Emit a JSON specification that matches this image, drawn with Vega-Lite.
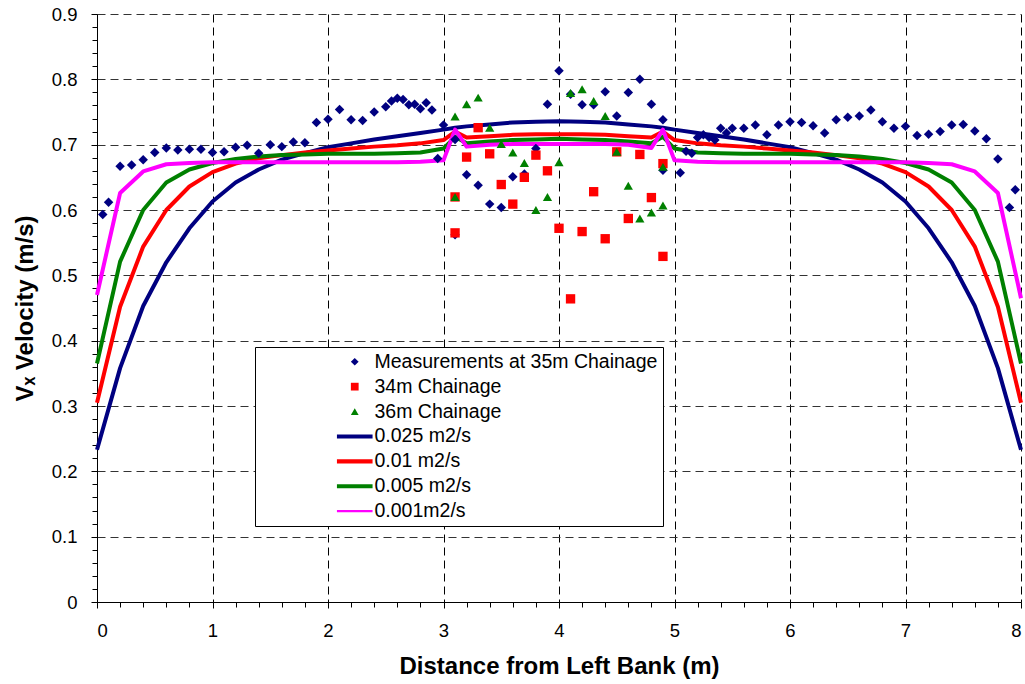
{
  "$schema": "https://vega.github.io/schema/vega-lite/v6.json",
  "width": 924,
  "height": 588,
  "autosize": "none",
  "padding": {"left": 97, "top": 14, "right": 4, "bottom": 82},
  "background": "white",
  "config": {
    "view": {"stroke": null},
    "font": "Liberation Sans",
    "legend": {
      "orient": "none",
      "legendX": 158,
      "legendY": 333,
      "fillColor": "white",
      "strokeColor": "black",
      "padding": 5,
      "labelFont": "Liberation Sans",
      "labelFontSize": 19.5,
      "labelColor": "black",
      "labelLimit": 500,
      "symbolSize": 60,
      "symbolStrokeWidth": 0,
      "symbolOffset": 85,
      "labelOffset": 10,
      "rowPadding": 3.9
    }
  },
  "datasets": {
    "points": [
      {"x":0.05,"v":0.593,"series":"Measurements at 35m Chainage"},
      {"x":0.1,"v":0.612,"series":"Measurements at 35m Chainage"},
      {"x":0.2,"v":0.667,"series":"Measurements at 35m Chainage"},
      {"x":0.3,"v":0.669,"series":"Measurements at 35m Chainage"},
      {"x":0.4,"v":0.677,"series":"Measurements at 35m Chainage"},
      {"x":0.5,"v":0.688,"series":"Measurements at 35m Chainage"},
      {"x":0.6,"v":0.695,"series":"Measurements at 35m Chainage"},
      {"x":0.7,"v":0.692,"series":"Measurements at 35m Chainage"},
      {"x":0.8,"v":0.693,"series":"Measurements at 35m Chainage"},
      {"x":0.9,"v":0.693,"series":"Measurements at 35m Chainage"},
      {"x":1.0,"v":0.688,"series":"Measurements at 35m Chainage"},
      {"x":1.1,"v":0.689,"series":"Measurements at 35m Chainage"},
      {"x":1.2,"v":0.696,"series":"Measurements at 35m Chainage"},
      {"x":1.3,"v":0.699,"series":"Measurements at 35m Chainage"},
      {"x":1.4,"v":0.687,"series":"Measurements at 35m Chainage"},
      {"x":1.5,"v":0.700,"series":"Measurements at 35m Chainage"},
      {"x":1.6,"v":0.697,"series":"Measurements at 35m Chainage"},
      {"x":1.7,"v":0.704,"series":"Measurements at 35m Chainage"},
      {"x":1.8,"v":0.703,"series":"Measurements at 35m Chainage"},
      {"x":1.9,"v":0.734,"series":"Measurements at 35m Chainage"},
      {"x":2.0,"v":0.739,"series":"Measurements at 35m Chainage"},
      {"x":2.1,"v":0.754,"series":"Measurements at 35m Chainage"},
      {"x":2.2,"v":0.738,"series":"Measurements at 35m Chainage"},
      {"x":2.3,"v":0.737,"series":"Measurements at 35m Chainage"},
      {"x":2.4,"v":0.750,"series":"Measurements at 35m Chainage"},
      {"x":2.5,"v":0.758,"series":"Measurements at 35m Chainage"},
      {"x":2.55,"v":0.767,"series":"Measurements at 35m Chainage"},
      {"x":2.6,"v":0.771,"series":"Measurements at 35m Chainage"},
      {"x":2.65,"v":0.769,"series":"Measurements at 35m Chainage"},
      {"x":2.7,"v":0.761,"series":"Measurements at 35m Chainage"},
      {"x":2.75,"v":0.762,"series":"Measurements at 35m Chainage"},
      {"x":2.8,"v":0.755,"series":"Measurements at 35m Chainage"},
      {"x":2.85,"v":0.764,"series":"Measurements at 35m Chainage"},
      {"x":2.9,"v":0.753,"series":"Measurements at 35m Chainage"},
      {"x":2.95,"v":0.679,"series":"Measurements at 35m Chainage"},
      {"x":3.0,"v":0.730,"series":"Measurements at 35m Chainage"},
      {"x":3.1,"v":0.708,"series":"Measurements at 35m Chainage"},
      {"x":3.1,"v":0.562,"series":"Measurements at 35m Chainage"},
      {"x":3.2,"v":0.654,"series":"Measurements at 35m Chainage"},
      {"x":3.3,"v":0.638,"series":"Measurements at 35m Chainage"},
      {"x":3.4,"v":0.609,"series":"Measurements at 35m Chainage"},
      {"x":3.5,"v":0.604,"series":"Measurements at 35m Chainage"},
      {"x":3.6,"v":0.651,"series":"Measurements at 35m Chainage"},
      {"x":3.7,"v":0.655,"series":"Measurements at 35m Chainage"},
      {"x":3.8,"v":0.694,"series":"Measurements at 35m Chainage"},
      {"x":3.9,"v":0.762,"series":"Measurements at 35m Chainage"},
      {"x":4.0,"v":0.813,"series":"Measurements at 35m Chainage"},
      {"x":4.1,"v":0.777,"series":"Measurements at 35m Chainage"},
      {"x":4.2,"v":0.761,"series":"Measurements at 35m Chainage"},
      {"x":4.3,"v":0.761,"series":"Measurements at 35m Chainage"},
      {"x":4.4,"v":0.781,"series":"Measurements at 35m Chainage"},
      {"x":4.5,"v":0.744,"series":"Measurements at 35m Chainage"},
      {"x":4.6,"v":0.780,"series":"Measurements at 35m Chainage"},
      {"x":4.7,"v":0.800,"series":"Measurements at 35m Chainage"},
      {"x":4.8,"v":0.762,"series":"Measurements at 35m Chainage"},
      {"x":4.9,"v":0.738,"series":"Measurements at 35m Chainage"},
      {"x":4.9,"v":0.661,"series":"Measurements at 35m Chainage"},
      {"x":5.05,"v":0.657,"series":"Measurements at 35m Chainage"},
      {"x":5.1,"v":0.690,"series":"Measurements at 35m Chainage"},
      {"x":5.15,"v":0.687,"series":"Measurements at 35m Chainage"},
      {"x":5.2,"v":0.711,"series":"Measurements at 35m Chainage"},
      {"x":5.25,"v":0.715,"series":"Measurements at 35m Chainage"},
      {"x":5.3,"v":0.711,"series":"Measurements at 35m Chainage"},
      {"x":5.35,"v":0.707,"series":"Measurements at 35m Chainage"},
      {"x":5.4,"v":0.725,"series":"Measurements at 35m Chainage"},
      {"x":5.45,"v":0.718,"series":"Measurements at 35m Chainage"},
      {"x":5.5,"v":0.725,"series":"Measurements at 35m Chainage"},
      {"x":5.6,"v":0.725,"series":"Measurements at 35m Chainage"},
      {"x":5.7,"v":0.730,"series":"Measurements at 35m Chainage"},
      {"x":5.8,"v":0.715,"series":"Measurements at 35m Chainage"},
      {"x":5.9,"v":0.730,"series":"Measurements at 35m Chainage"},
      {"x":6.0,"v":0.735,"series":"Measurements at 35m Chainage"},
      {"x":6.1,"v":0.734,"series":"Measurements at 35m Chainage"},
      {"x":6.2,"v":0.729,"series":"Measurements at 35m Chainage"},
      {"x":6.3,"v":0.718,"series":"Measurements at 35m Chainage"},
      {"x":6.4,"v":0.738,"series":"Measurements at 35m Chainage"},
      {"x":6.5,"v":0.742,"series":"Measurements at 35m Chainage"},
      {"x":6.6,"v":0.744,"series":"Measurements at 35m Chainage"},
      {"x":6.7,"v":0.753,"series":"Measurements at 35m Chainage"},
      {"x":6.8,"v":0.735,"series":"Measurements at 35m Chainage"},
      {"x":6.9,"v":0.725,"series":"Measurements at 35m Chainage"},
      {"x":7.0,"v":0.728,"series":"Measurements at 35m Chainage"},
      {"x":7.1,"v":0.714,"series":"Measurements at 35m Chainage"},
      {"x":7.2,"v":0.716,"series":"Measurements at 35m Chainage"},
      {"x":7.3,"v":0.720,"series":"Measurements at 35m Chainage"},
      {"x":7.4,"v":0.730,"series":"Measurements at 35m Chainage"},
      {"x":7.5,"v":0.731,"series":"Measurements at 35m Chainage"},
      {"x":7.6,"v":0.721,"series":"Measurements at 35m Chainage"},
      {"x":7.7,"v":0.709,"series":"Measurements at 35m Chainage"},
      {"x":7.8,"v":0.678,"series":"Measurements at 35m Chainage"},
      {"x":7.9,"v":0.604,"series":"Measurements at 35m Chainage"},
      {"x":7.95,"v":0.631,"series":"Measurements at 35m Chainage"},
      {"x":3.1,"v":0.620,"series":"34m Chainage"},
      {"x":3.1,"v":0.565,"series":"34m Chainage"},
      {"x":3.2,"v":0.681,"series":"34m Chainage"},
      {"x":3.3,"v":0.726,"series":"34m Chainage"},
      {"x":3.4,"v":0.686,"series":"34m Chainage"},
      {"x":3.5,"v":0.639,"series":"34m Chainage"},
      {"x":3.6,"v":0.609,"series":"34m Chainage"},
      {"x":3.7,"v":0.650,"series":"34m Chainage"},
      {"x":3.8,"v":0.684,"series":"34m Chainage"},
      {"x":3.9,"v":0.660,"series":"34m Chainage"},
      {"x":4.0,"v":0.572,"series":"34m Chainage"},
      {"x":4.1,"v":0.464,"series":"34m Chainage"},
      {"x":4.2,"v":0.567,"series":"34m Chainage"},
      {"x":4.3,"v":0.628,"series":"34m Chainage"},
      {"x":4.4,"v":0.556,"series":"34m Chainage"},
      {"x":4.5,"v":0.689,"series":"34m Chainage"},
      {"x":4.6,"v":0.587,"series":"34m Chainage"},
      {"x":4.7,"v":0.685,"series":"34m Chainage"},
      {"x":4.8,"v":0.619,"series":"34m Chainage"},
      {"x":4.9,"v":0.671,"series":"34m Chainage"},
      {"x":4.9,"v":0.529,"series":"34m Chainage"},
      {"x":3.1,"v":0.743,"series":"36m Chainage"},
      {"x":3.1,"v":0.620,"series":"36m Chainage"},
      {"x":3.2,"v":0.762,"series":"36m Chainage"},
      {"x":3.3,"v":0.772,"series":"36m Chainage"},
      {"x":3.4,"v":0.726,"series":"36m Chainage"},
      {"x":3.5,"v":0.701,"series":"36m Chainage"},
      {"x":3.6,"v":0.688,"series":"36m Chainage"},
      {"x":3.7,"v":0.672,"series":"36m Chainage"},
      {"x":3.8,"v":0.600,"series":"36m Chainage"},
      {"x":3.9,"v":0.620,"series":"36m Chainage"},
      {"x":4.0,"v":0.673,"series":"36m Chainage"},
      {"x":4.1,"v":0.779,"series":"36m Chainage"},
      {"x":4.2,"v":0.785,"series":"36m Chainage"},
      {"x":4.3,"v":0.767,"series":"36m Chainage"},
      {"x":4.4,"v":0.744,"series":"36m Chainage"},
      {"x":4.5,"v":0.689,"series":"36m Chainage"},
      {"x":4.6,"v":0.637,"series":"36m Chainage"},
      {"x":4.7,"v":0.587,"series":"36m Chainage"},
      {"x":4.8,"v":0.596,"series":"36m Chainage"},
      {"x":4.9,"v":0.666,"series":"36m Chainage"},
      {"x":4.9,"v":0.607,"series":"36m Chainage"}
    ],
    "lines": [
      {"x":0,"v":0.233,"series":"0.025 m2/s"},{"x":0.2,"v":0.358,"series":"0.025 m2/s"},{"x":0.4,"v":0.453,"series":"0.025 m2/s"},{"x":0.6,"v":0.520,"series":"0.025 m2/s"},{"x":0.8,"v":0.572,"series":"0.025 m2/s"},{"x":1.0,"v":0.613,"series":"0.025 m2/s"},{"x":1.2,"v":0.642,"series":"0.025 m2/s"},{"x":1.4,"v":0.662,"series":"0.025 m2/s"},{"x":1.6,"v":0.677,"series":"0.025 m2/s"},{"x":1.8,"v":0.687,"series":"0.025 m2/s"},{"x":2.0,"v":0.696,"series":"0.025 m2/s"},{"x":2.2,"v":0.702,"series":"0.025 m2/s"},{"x":2.4,"v":0.708,"series":"0.025 m2/s"},{"x":2.6,"v":0.713,"series":"0.025 m2/s"},{"x":2.8,"v":0.718,"series":"0.025 m2/s"},{"x":3.0,"v":0.723,"series":"0.025 m2/s"},{"x":3.1,"v":0.726,"series":"0.025 m2/s"},{"x":3.2,"v":0.728,"series":"0.025 m2/s"},{"x":3.4,"v":0.731,"series":"0.025 m2/s"},{"x":3.6,"v":0.734,"series":"0.025 m2/s"},{"x":3.8,"v":0.735,"series":"0.025 m2/s"},{"x":4.0,"v":0.736,"series":"0.025 m2/s"},{"x":4.2,"v":0.735,"series":"0.025 m2/s"},{"x":4.4,"v":0.734,"series":"0.025 m2/s"},{"x":4.6,"v":0.731,"series":"0.025 m2/s"},{"x":4.8,"v":0.728,"series":"0.025 m2/s"},{"x":4.9,"v":0.726,"series":"0.025 m2/s"},{"x":5.0,"v":0.723,"series":"0.025 m2/s"},{"x":5.2,"v":0.718,"series":"0.025 m2/s"},{"x":5.4,"v":0.713,"series":"0.025 m2/s"},{"x":5.6,"v":0.708,"series":"0.025 m2/s"},{"x":5.8,"v":0.702,"series":"0.025 m2/s"},{"x":6.0,"v":0.696,"series":"0.025 m2/s"},{"x":6.2,"v":0.687,"series":"0.025 m2/s"},{"x":6.4,"v":0.677,"series":"0.025 m2/s"},{"x":6.6,"v":0.662,"series":"0.025 m2/s"},{"x":6.8,"v":0.642,"series":"0.025 m2/s"},{"x":7.0,"v":0.613,"series":"0.025 m2/s"},{"x":7.2,"v":0.572,"series":"0.025 m2/s"},{"x":7.4,"v":0.520,"series":"0.025 m2/s"},{"x":7.6,"v":0.453,"series":"0.025 m2/s"},{"x":7.8,"v":0.358,"series":"0.025 m2/s"},{"x":8.0,"v":0.233,"series":"0.025 m2/s"},
      {"x":0,"v":0.305,"series":"0.01 m2/s"},{"x":0.2,"v":0.452,"series":"0.01 m2/s"},{"x":0.4,"v":0.544,"series":"0.01 m2/s"},{"x":0.6,"v":0.600,"series":"0.01 m2/s"},{"x":0.8,"v":0.636,"series":"0.01 m2/s"},{"x":1.0,"v":0.658,"series":"0.01 m2/s"},{"x":1.2,"v":0.671,"series":"0.01 m2/s"},{"x":1.4,"v":0.679,"series":"0.01 m2/s"},{"x":1.6,"v":0.684,"series":"0.01 m2/s"},{"x":1.8,"v":0.688,"series":"0.01 m2/s"},{"x":2.0,"v":0.691,"series":"0.01 m2/s"},{"x":2.2,"v":0.694,"series":"0.01 m2/s"},{"x":2.4,"v":0.697,"series":"0.01 m2/s"},{"x":2.6,"v":0.699,"series":"0.01 m2/s"},{"x":2.8,"v":0.702,"series":"0.01 m2/s"},{"x":3.0,"v":0.707,"series":"0.01 m2/s"},{"x":3.1,"v":0.720,"series":"0.01 m2/s"},{"x":3.2,"v":0.711,"series":"0.01 m2/s"},{"x":3.4,"v":0.713,"series":"0.01 m2/s"},{"x":3.6,"v":0.715,"series":"0.01 m2/s"},{"x":3.8,"v":0.716,"series":"0.01 m2/s"},{"x":4.0,"v":0.716,"series":"0.01 m2/s"},{"x":4.2,"v":0.716,"series":"0.01 m2/s"},{"x":4.4,"v":0.715,"series":"0.01 m2/s"},{"x":4.6,"v":0.713,"series":"0.01 m2/s"},{"x":4.8,"v":0.711,"series":"0.01 m2/s"},{"x":4.9,"v":0.720,"series":"0.01 m2/s"},{"x":5.0,"v":0.707,"series":"0.01 m2/s"},{"x":5.2,"v":0.702,"series":"0.01 m2/s"},{"x":5.4,"v":0.699,"series":"0.01 m2/s"},{"x":5.6,"v":0.697,"series":"0.01 m2/s"},{"x":5.8,"v":0.694,"series":"0.01 m2/s"},{"x":6.0,"v":0.691,"series":"0.01 m2/s"},{"x":6.2,"v":0.688,"series":"0.01 m2/s"},{"x":6.4,"v":0.684,"series":"0.01 m2/s"},{"x":6.6,"v":0.679,"series":"0.01 m2/s"},{"x":6.8,"v":0.671,"series":"0.01 m2/s"},{"x":7.0,"v":0.658,"series":"0.01 m2/s"},{"x":7.2,"v":0.636,"series":"0.01 m2/s"},{"x":7.4,"v":0.600,"series":"0.01 m2/s"},{"x":7.6,"v":0.544,"series":"0.01 m2/s"},{"x":7.8,"v":0.452,"series":"0.01 m2/s"},{"x":8.0,"v":0.305,"series":"0.01 m2/s"},
      {"x":0,"v":0.365,"series":"0.005 m2/s"},{"x":0.2,"v":0.521,"series":"0.005 m2/s"},{"x":0.4,"v":0.600,"series":"0.005 m2/s"},{"x":0.6,"v":0.642,"series":"0.005 m2/s"},{"x":0.8,"v":0.662,"series":"0.005 m2/s"},{"x":1.0,"v":0.672,"series":"0.005 m2/s"},{"x":1.2,"v":0.678,"series":"0.005 m2/s"},{"x":1.4,"v":0.682,"series":"0.005 m2/s"},{"x":1.6,"v":0.684,"series":"0.005 m2/s"},{"x":1.8,"v":0.685,"series":"0.005 m2/s"},{"x":2.0,"v":0.686,"series":"0.005 m2/s"},{"x":2.2,"v":0.686,"series":"0.005 m2/s"},{"x":2.4,"v":0.686,"series":"0.005 m2/s"},{"x":2.6,"v":0.687,"series":"0.005 m2/s"},{"x":2.8,"v":0.688,"series":"0.005 m2/s"},{"x":3.0,"v":0.694,"series":"0.005 m2/s"},{"x":3.1,"v":0.712,"series":"0.005 m2/s"},{"x":3.2,"v":0.702,"series":"0.005 m2/s"},{"x":3.4,"v":0.705,"series":"0.005 m2/s"},{"x":3.6,"v":0.707,"series":"0.005 m2/s"},{"x":3.8,"v":0.708,"series":"0.005 m2/s"},{"x":4.0,"v":0.709,"series":"0.005 m2/s"},{"x":4.2,"v":0.708,"series":"0.005 m2/s"},{"x":4.4,"v":0.707,"series":"0.005 m2/s"},{"x":4.6,"v":0.705,"series":"0.005 m2/s"},{"x":4.8,"v":0.702,"series":"0.005 m2/s"},{"x":4.9,"v":0.712,"series":"0.005 m2/s"},{"x":5.0,"v":0.694,"series":"0.005 m2/s"},{"x":5.2,"v":0.688,"series":"0.005 m2/s"},{"x":5.4,"v":0.687,"series":"0.005 m2/s"},{"x":5.6,"v":0.686,"series":"0.005 m2/s"},{"x":5.8,"v":0.686,"series":"0.005 m2/s"},{"x":6.0,"v":0.686,"series":"0.005 m2/s"},{"x":6.2,"v":0.685,"series":"0.005 m2/s"},{"x":6.4,"v":0.684,"series":"0.005 m2/s"},{"x":6.6,"v":0.682,"series":"0.005 m2/s"},{"x":6.8,"v":0.678,"series":"0.005 m2/s"},{"x":7.0,"v":0.672,"series":"0.005 m2/s"},{"x":7.2,"v":0.662,"series":"0.005 m2/s"},{"x":7.4,"v":0.642,"series":"0.005 m2/s"},{"x":7.6,"v":0.600,"series":"0.005 m2/s"},{"x":7.8,"v":0.521,"series":"0.005 m2/s"},{"x":8.0,"v":0.365,"series":"0.005 m2/s"},
      {"x":0,"v":0.470,"series":"0.001m2/s"},{"x":0.2,"v":0.626,"series":"0.001m2/s"},{"x":0.4,"v":0.659,"series":"0.001m2/s"},{"x":0.6,"v":0.670,"series":"0.001m2/s"},{"x":0.8,"v":0.672,"series":"0.001m2/s"},{"x":1.0,"v":0.673,"series":"0.001m2/s"},{"x":1.2,"v":0.673,"series":"0.001m2/s"},{"x":1.4,"v":0.673,"series":"0.001m2/s"},{"x":1.6,"v":0.673,"series":"0.001m2/s"},{"x":1.8,"v":0.673,"series":"0.001m2/s"},{"x":2.0,"v":0.673,"series":"0.001m2/s"},{"x":2.2,"v":0.673,"series":"0.001m2/s"},{"x":2.4,"v":0.673,"series":"0.001m2/s"},{"x":2.6,"v":0.673,"series":"0.001m2/s"},{"x":2.8,"v":0.674,"series":"0.001m2/s"},{"x":3.0,"v":0.676,"series":"0.001m2/s"},{"x":3.1,"v":0.723,"series":"0.001m2/s"},{"x":3.2,"v":0.697,"series":"0.001m2/s"},{"x":3.4,"v":0.700,"series":"0.001m2/s"},{"x":3.6,"v":0.701,"series":"0.001m2/s"},{"x":3.8,"v":0.701,"series":"0.001m2/s"},{"x":4.0,"v":0.701,"series":"0.001m2/s"},{"x":4.2,"v":0.701,"series":"0.001m2/s"},{"x":4.4,"v":0.701,"series":"0.001m2/s"},{"x":4.6,"v":0.700,"series":"0.001m2/s"},{"x":4.8,"v":0.695,"series":"0.001m2/s"},{"x":4.9,"v":0.723,"series":"0.001m2/s"},{"x":5.0,"v":0.676,"series":"0.001m2/s"},{"x":5.2,"v":0.674,"series":"0.001m2/s"},{"x":5.4,"v":0.673,"series":"0.001m2/s"},{"x":5.6,"v":0.673,"series":"0.001m2/s"},{"x":5.8,"v":0.673,"series":"0.001m2/s"},{"x":6.0,"v":0.673,"series":"0.001m2/s"},{"x":6.2,"v":0.673,"series":"0.001m2/s"},{"x":6.4,"v":0.673,"series":"0.001m2/s"},{"x":6.6,"v":0.673,"series":"0.001m2/s"},{"x":6.8,"v":0.673,"series":"0.001m2/s"},{"x":7.0,"v":0.673,"series":"0.001m2/s"},{"x":7.2,"v":0.672,"series":"0.001m2/s"},{"x":7.4,"v":0.670,"series":"0.001m2/s"},{"x":7.6,"v":0.659,"series":"0.001m2/s"},{"x":7.8,"v":0.626,"series":"0.001m2/s"},{"x":8.0,"v":0.465,"series":"0.001m2/s"}
    ]
  },
  "layer": [
    {
      "data": {"name": "lines"},
      "mark": {"type": "line", "strokeJoin": "round"},
      "encoding": {
        "x": {"field": "x", "type": "quantitative", "scale": {"domain": [0, 8], "nice": false, "zero": false},
          "axis": {"orient": "bottom", "values": [0.2,0.4,0.6,0.8,1.2,1.4,1.6,1.8,2.2,2.4,2.6,2.8,3.2,3.4,3.6,3.8,4.2,4.4,4.6,4.8,5.2,5.4,5.6,5.8,6.2,6.4,6.6,6.8,7.2,7.4,7.6,7.8],
            "labels": false, "grid": false, "domain": false, "ticks": true, "tickSize": 5, "tickColor": "black", "tickWidth": 1, "title": null}},
        "y": {"field": "v", "type": "quantitative", "scale": {"domain": [0, 0.9], "nice": false},
          "axis": {"orient": "left", "values": [0.02,0.04,0.06,0.08,0.12,0.14,0.16,0.18,0.22,0.24,0.26,0.28,0.32,0.34,0.36,0.38,0.42,0.44,0.46,0.48,0.52,0.54,0.56,0.58,0.62,0.64,0.66,0.68,0.72,0.74,0.76,0.78,0.82,0.84,0.86,0.88],
            "labels": false, "grid": false, "domain": false, "ticks": true, "tickSize": 5, "tickColor": "black", "tickWidth": 1, "title": null}},
        "color": {"field": "series", "type": "nominal",
          "scale": {"domain": ["Measurements at 35m Chainage","34m Chainage","36m Chainage","0.025 m2/s","0.01 m2/s","0.005 m2/s","0.001m2/s"],
            "range": ["#000080","#FF0000","#008000","#000080","#FF0000","#008000","#FF00FF"]},
          "legend": null},
        "strokeWidth": {"field": "series", "type": "nominal",
          "scale": {"domain": ["0.025 m2/s","0.01 m2/s","0.005 m2/s","0.001m2/s"], "range": [4, 4, 4, 2]},
          "legend": null}
      }
    },
    {
      "mark": {"type": "rule", "color": "#8c8c8c", "strokeWidth": 1.5},
      "encoding": {"x": {"datum": 8, "type": "quantitative", "axis": null}}
    },
    {
      "data": {"name": "points"},
      "mark": {"type": "point", "filled": true, "opacity": 1},
      "encoding": {
        "x": {"field": "x", "type": "quantitative", "scale": {"domain": [0, 8], "nice": false, "zero": false},
          "axis": {"orient": "bottom", "values": [0,1,2,3,4,5,6,7,8], "format": "d",
            "grid": true, "gridColor": "black", "gridDash": [8, 5], "gridWidth": 1,
            "domain": true, "domainColor": "black", "domainWidth": 1,
            "ticks": true, "tickSize": 6, "tickColor": "black", "tickWidth": 1,
            "labelFont": "Liberation Sans", "labelFontSize": 18.5, "labelColor": "black", "labelPadding": 13,
            "title": "Distance from Left Bank (m)", "titleFont": "Liberation Sans", "titleFontSize": 24, "titleFontWeight": "bold", "titleColor": "black", "titlePadding": 15}},
        "y": {"field": "v", "type": "quantitative", "scale": {"domain": [0, 0.9], "nice": false},
          "axis": {"orient": "left", "values": [0,0.1,0.2,0.3,0.4,0.5,0.6,0.7,0.8,0.9], "format": "~g",
            "grid": true, "gridColor": "#333333", "gridDash": [8, 5], "gridWidth": 1,
            "domain": true, "domainColor": "black", "domainWidth": 1,
            "ticks": true, "tickSize": 6, "tickColor": "black", "tickWidth": 1,
            "labelFont": "Liberation Sans", "labelFontSize": 18.5, "labelColor": "black", "labelPadding": 14,
            "title": "Vₓ Velocity (m/s)", "titleFont": "Liberation Sans", "titleFontSize": 24, "titleFontWeight": "bold", "titleColor": "black", "titlePadding": 14}},
        "color": {"field": "series", "type": "nominal",
          "scale": {"domain": ["Measurements at 35m Chainage","34m Chainage","36m Chainage","0.025 m2/s","0.01 m2/s","0.005 m2/s","0.001m2/s"],
            "range": ["#000080","#FF0000","#008000","#000080","#FF0000","#008000","#FF00FF"]},
          "legend": {"title": null}},
        "shape": {"field": "series", "type": "nominal",
          "scale": {"domain": ["Measurements at 35m Chainage","34m Chainage","36m Chainage","0.025 m2/s","0.01 m2/s","0.005 m2/s","0.001m2/s"],
            "range": ["diamond","square","triangle-up","M-4.6,-0.53H4.6V0.53H-4.6Z","M-4.6,-0.53H4.6V0.53H-4.6Z","M-4.6,-0.53H4.6V0.53H-4.6Z","M-4.6,-0.27H4.6V0.27H-4.6Z"]},
          "legend": {"title": null}},
        "size": {"field": "series", "type": "nominal",
          "scale": {"domain": ["Measurements at 35m Chainage","34m Chainage","36m Chainage"], "range": [90, 85, 150]},
          "legend": null}
      }
    }
  ],
  "resolve": {"axis": {"x": "independent", "y": "independent"}, "legend": {"color": "independent", "shape": "independent"}}
}
